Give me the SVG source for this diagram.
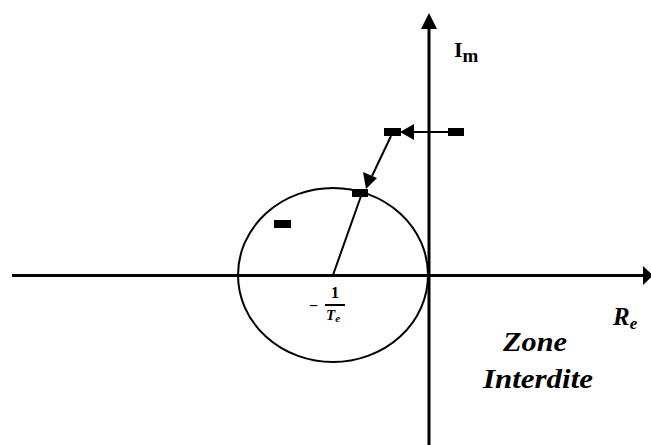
<svg xmlns="http://www.w3.org/2000/svg" width="651" height="445" viewBox="0 0 651 445">
<style>
.ln{stroke:#000;stroke-width:3;fill:none}
.thin{stroke:#000;stroke-width:2;fill:none}
.blk{fill:#000}
.t{font-family:"Liberation Serif",serif;font-weight:bold;fill:#000}
.it{font-style:italic}
</style>
<g id="connectors">
<line class="ln" x1="429" y1="445" x2="429" y2="28"/>
<polygon class="blk" points="429,13 421,29 437,29"/>
<line class="ln" x1="12" y1="275.5" x2="645" y2="275.5"/>
<polygon class="blk" points="653,275.5 643,266 643,285"/>
<line class="thin" x1="448" y1="132" x2="412" y2="132"/>
<polygon class="blk" points="400,132 414,124 414,140"/>
<line class="thin" x1="391" y1="136" x2="372" y2="176"/>
<polygon class="blk" points="366,189 363,172 377,178"/>
<line class="thin" x1="333" y1="275" x2="361" y2="196"/>
</g>
<g id="circle">
<ellipse class="thin" cx="333" cy="275" rx="95" ry="87"/>
</g>
<g id="points">
<rect class="blk" x="384" y="128" width="17" height="8"/>
<rect class="blk" x="448" y="128" width="16" height="8"/>
<rect class="blk" x="352" y="189" width="16" height="8"/>
<rect class="blk" x="274" y="220" width="17" height="8"/>
</g>
<g id="labels">
<text class="t" x="454" y="57" font-size="22">I<tspan font-size="19" dy="5">m</tspan></text>
<text class="t it" x="613" y="325" font-size="25">R<tspan font-size="17" dy="4">e</tspan></text>
<text class="t" x="309" y="311" font-size="16">−</text>
<text class="t" x="335" y="298" font-size="16" text-anchor="middle">1</text>
<line x1="325" y1="305" x2="345" y2="305" stroke="#000" stroke-width="2"/>
<text class="t it" x="326" y="320" font-size="15">T<tspan font-size="11" dy="2">e</tspan></text>
<text class="t it" x="503" y="351" font-size="27" textLength="64" lengthAdjust="spacingAndGlyphs">Zone</text>
<text class="t it" x="483" y="388" font-size="27" textLength="110" lengthAdjust="spacingAndGlyphs">Interdite</text>
</g>
</svg>
